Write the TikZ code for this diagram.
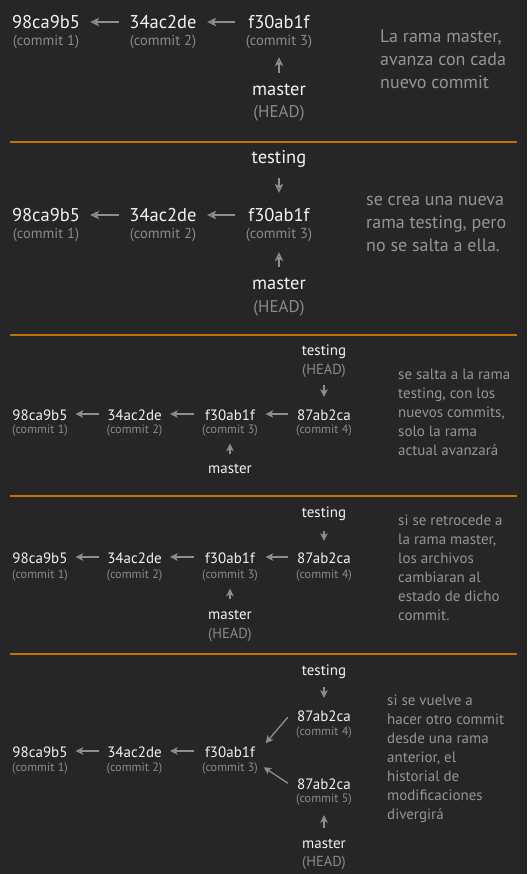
\documentclass[tikz,border=0pt]{standalone}
\usepackage{fontspec}
\setmainfont{PT Sans}
\usetikzlibrary{positioning,arrows.meta}
\definecolor{bg}{HTML}{262626}
\definecolor{rulec}{HTML}{C0700F}
\definecolor{hashc}{HTML}{F2F2F2}
\definecolor{labc}{HTML}{8A8A8A}
\definecolor{notec}{HTML}{959595}
\definecolor{arrc}{HTML}{8E8E8E}

\begin{document}
\begin{tikzpicture}[x=1pt,y=-1pt]
	\tikzset{
		hash/.style={anchor=base,inner sep=0pt,text=hashc,text width=68pt,align=center,text height=14pt,text depth=0pt,font=\fontsize{18.5}{18.5}\selectfont},
		shash/.style={hash,text width=55pt,text height=12pt,font=\fontsize{15}{15}\selectfont},
		lab/.style={anchor=base,inner sep=0pt,text=labc,text height=9pt,text depth=3pt,font=\fontsize{14.5}{14.5}\selectfont},
		slab/.style={lab,text height=8pt,text depth=2.5pt,font=\fontsize{12.2}{12.2}\selectfont},
		branch/.style={anchor=base,inner sep=0pt,text=hashc,text height=12pt,text depth=4pt,font=\fontsize{18.5}{18.5}\selectfont},
		sbranch/.style={branch,text height=10.5pt,text depth=3.5pt,font=\fontsize{15}{15}\selectfont},
		head/.style={anchor=base,inner sep=0pt,text=labc,text height=12pt,text depth=3pt,font=\fontsize{17}{17}\selectfont},
		shead/.style={head,text height=10pt,text depth=3pt,font=\fontsize{14.5}{14.5}\selectfont},
		note/.style={anchor=base west,inner sep=0pt,align=left,text=notec,font=\fontsize{18}{23}\selectfont},
		snote/.style={note,font=\fontsize{15}{19}\selectfont},
		link/.style={draw=arrc,line width=1.5pt,-{Stealth[length=9pt,width=8.5pt,inset=2.5pt]},shorten <=10pt,shorten >=10pt},
		slink/.style={draw=arrc,line width=1.3pt,-{Stealth[length=7.5pt,width=7.5pt,inset=2pt]},shorten <=8pt,shorten >=8pt},
		sep/.style={draw=rulec,line width=2pt}
	}
	\useasboundingbox[fill=bg] (0,0) rectangle (527,874);

	%% master avanza
	\node[hash] (a1) at (46,29) {98ca9b5};
	\node[hash] (a2) at (163,29) {34ac2de};
	\node[hash] (a3) at (279,29) {f30ab1f};
	\node[lab] (al1) at (46,46) {(commit 1)};
	\node[lab] (al2) at (163,46) {(commit 2)};
	\node[lab] (al3) at (279,46) {(commit 3)};
	\node[branch] (am) at (279,96) {master};
	\node[head] (ah) at (279,118) {(HEAD)};
	\node[note] (an) at (380,89) {La rama master,\\avanza con cada\\nuevo commit};
	\path[link]
		(a2) edge (a1)
		(a3) edge (a2)
		(am) edge[shorten >=8pt,shorten <=11pt] (al3);

	\draw[sep] (10,142) -- (517,142);

	%% nueva rama testing
	\node[hash] (b1) at (46,222) {98ca9b5};
	\node[hash] (b2) at (163,222) {34ac2de};
	\node[hash] (b3) at (279,222) {f30ab1f};
	\node[lab] (bl1) at (46,239) {(commit 1)};
	\node[lab] (bl2) at (163,239) {(commit 2)};
	\node[lab] (bl3) at (279,239) {(commit 3)};
	\node[branch] (bt) at (279,164) {testing};
	\node[branch] (bm) at (279,289) {master};
	\node[head] (bh) at (279,312) {(HEAD)};
	\node[note] (bn) at (366,252) {se crea una nueva\\rama testing, pero\\no se salta a ella.};
	\path[link]
		(b2) edge (b1)
		(b3) edge (b2)
		(bt) edge[shorten >=15pt] (b3)
		(bm) edge (bl3);

	\draw[sep] (10,334.5) -- (517,334.5);

	%% salto a testing
	\node[shash] (c1) at (40,420) {98ca9b5};
	\node[shash] (c2) at (134.5,420) {34ac2de};
	\node[shash] (c3) at (230,420) {f30ab1f};
	\node[shash] (c4) at (324,420) {87ab2ca};
	\node[slab] (cl1) at (40,433) {(commit 1)};
	\node[slab] (cl2) at (134.5,433) {(commit 2)};
	\node[slab] (cl3) at (230,433) {(commit 3)};
	\node[slab] (cl4) at (324,433) {(commit 4)};
	\node[sbranch] (ct) at (324,355) {testing};
	\node[shead] (ch) at (324,374) {(HEAD)};
	\node[sbranch] (cm) at (230,473) {master};
	\node[snote] (cn) at (398,455) {se salta a la rama\\testing, con los\\nuevos commits,\\solo la rama\\actual avanzará};
	\path[slink]
		(c2) edge (c1)
		(c3) edge (c2)
		(c4) edge (c3)
		(ch) edge[shorten >=11pt] (c4)
		(cm) edge (cl3);

	\draw[sep] (10,495.5) -- (517,495.5);

	%% retroceso a master
	\node[shash] (d1) at (40,563) {98ca9b5};
	\node[shash] (d2) at (134.5,563) {34ac2de};
	\node[shash] (d3) at (230,563) {f30ab1f};
	\node[shash] (d4) at (324,563) {87ab2ca};
	\node[slab] (dl1) at (40,578) {(commit 1)};
	\node[slab] (dl2) at (134.5,578) {(commit 2)};
	\node[slab] (dl3) at (230,578) {(commit 3)};
	\node[slab] (dl4) at (324,578) {(commit 4)};
	\node[sbranch] (dt) at (324,517) {testing};
	\node[sbranch] (dm) at (230,619) {master};
	\node[shead] (dh) at (230,638) {(HEAD)};
	\node[snote] (dn) at (398,620) {si se retrocede a\\la rama master,\\los archivos\\cambiaran al\\estado de dicho\\commit.};
	\path[slink]
		(d2) edge (d1)
		(d3) edge (d2)
		(d4) edge (d3)
		(dt) edge[shorten <=10pt,shorten >=10pt] (d4)
		(dm) edge[shorten <=9.5pt] (dl3);

	\draw[sep] (10,654) -- (517,654);

	%% historial divergente
	\node[shash] (e1) at (40,757) {98ca9b5};
	\node[shash] (e2) at (134.5,757) {34ac2de};
	\node[shash] (e3) at (230,757) {f30ab1f};
	\node[shash] (e4) at (324,721) {87ab2ca};
	\node[shash] (e5) at (324,789) {87ab2ca};
	\node[slab] (el1) at (40,771) {(commit 1)};
	\node[slab] (el2) at (134.5,771) {(commit 2)};
	\node[slab] (el3) at (230,771) {(commit 3)};
	\node[slab] (el4) at (324,735) {(commit 4)};
	\node[slab] (el5) at (324,802) {(commit 5)};
	\node[sbranch] (et) at (324,675) {testing};
	\node[sbranch] (em) at (324,848) {master};
	\node[shead] (eh) at (324,866) {(HEAD)};
	\node[snote] (en) at (387,819) {si se vuelve a\\hacer otro commit\\desde una rama\\anterior, el\\historial de\\modificaciones\\divergirá};
	\path[slink]
		(e2) edge (e1)
		(e3) edge (e2)
		(et) edge[shorten >=11pt] (e4)
		(em) edge[shorten >=10.5pt,shorten <=9.5pt] (el5);
	\draw[slink,shorten <=0pt,shorten >=0pt] ([xshift=-8.5pt,yshift=4pt]e4.south west) -- ([xshift=8pt,yshift=14pt]e3.south east);
	\draw[slink,shorten <=0pt,shorten >=0pt] ([xshift=-8.5pt,yshift=6pt]e5.south west) -- ([xshift=6pt,yshift=-10pt]e3.south east);
\end{tikzpicture}
\end{document}
